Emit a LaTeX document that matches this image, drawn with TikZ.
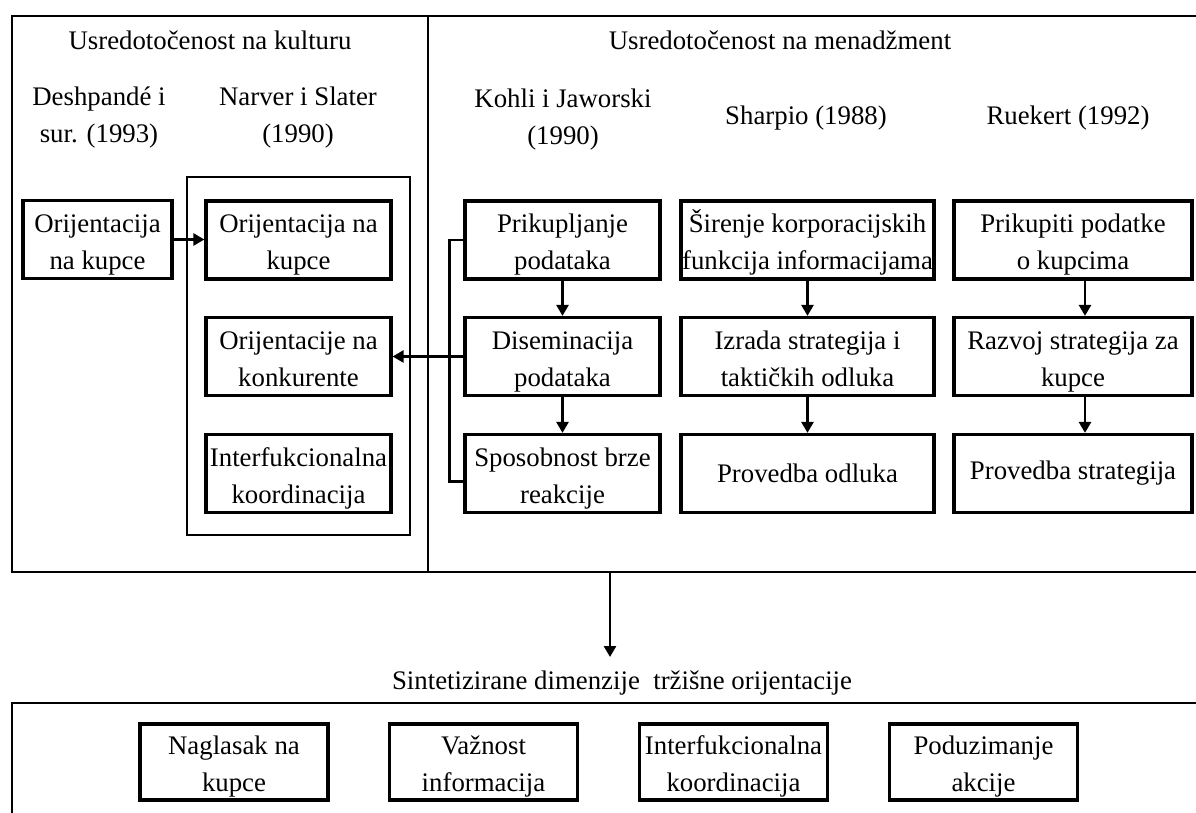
\documentclass[tikz,border=0pt]{standalone}
\usepackage{fontspec}
\setmainfont{Liberation Serif}
\usetikzlibrary{arrows.meta,positioning}

\newcommand{\twoline}[2]{\vphantom{Šj}#1\\#2\vphantom{Šj}}

\begin{document}
\begin{tikzpicture}[x=0.5pt,y=-0.5pt,>={Triangle[length=5.5pt,width=6pt]},
  every node/.style={font=\fontsize{13.4}{18.5}\selectfont,align=center},
  box/.style={draw,line width=1.6pt,inner sep=0pt,minimum height=39pt},
  txt/.style 2 args={label={[yshift=-1.4pt]center:{\twoline{#1}{#2}}}},
  frame/.style={draw,line width=1.4pt},
  conn/.style={line width=1.3pt},
  desh col/.style={box,minimum width=74.5pt},
  narv col/.style={box,minimum width=92.5pt},
  kohli col/.style={box,minimum width=97.5pt},
  shar col/.style={box,minimum width=126.5pt},
  ruek col/.style={box,minimum width=119pt},
  dim box/.style={box,minimum width=94pt,minimum height=38pt}]

  \useasboundingbox (0,0) rectangle (1196,813);
  \clip (0,0) rectangle (1196,813);

  % outer frames
  \draw[frame] (12,16) rectangle (1240,572);
  \draw[frame] (428,16) -- (428,572);
  \draw[frame] (12,703) rectangle (1240,860);

  % headings
  \node (cult) at (210,40) {Usredotočenost na kulturu};
  \node (mgmt) at (780,40) {Usredotočenost na menadžment};
  \node (deshT) at (99,118) {Deshpandé i\\sur. (1993)};
  \node (narvT) at (298,118) {Narver i Slater\\(1990)};
  \node (kohT) at (563,120) {Kohli i Jaworski\\(1990)};
  \node (sharT) at (806,118) {Sharpio (1988)};
  \node (ruekT) at (1068,118) {Ruekert (1992)};

  % culture side
  \node[desh col,txt={Orijentacija}{na kupce}] (desh1) at (97.5,239.5) {};
  \node[frame,minimum width=111.5pt,minimum height=179pt] (narv) at (298.5,356) {};
  \node[narv col,txt={Orijentacija na}{kupce}] (narv1) at (298.5,240) {};
  \node[narv col,txt={Orijentacije na}{konkurente}] (narv2) at (298.5,356.5) {};
  \node[narv col,txt={Interfukcionalna}{koordinacija}] (narv3) at (298.5,473.5) {};

  % management side
  \node[kohli col,txt={Prikupljanje}{podataka}] (kohli1) at (562.5,240) {};
  \node[kohli col,txt={Diseminacija}{podataka}] (kohli2) at (562.5,356.5) {};
  \node[kohli col,txt={Sposobnost brze}{reakcije}] (kohli3) at (562.5,473.5) {};

  \node[shar col,txt={Širenje korporacijskih}{funkcija informacijama}] (shar1) at (807.5,240) {};
  \node[shar col,txt={Izrada strategija i}{taktičkih odluka}] (shar2) at (807.5,356.5) {};
  \node[shar col] (shar3) at (807.5,473.5) {Provedba odluka};

  \node[ruek col,txt={Prikupiti podatke}{o kupcima}] (ruek1) at (1073,240) {};
  \node[ruek col,txt={Razvoj strategija za}{kupce}] (ruek2) at (1073,356.5) {};
  \node[ruek col] (ruek3) at (1073,473.5) {Provedba strategija};

  % synthesis
  \coordinate (topout) at (610,572);
  \coordinate (topin) at (610,657);
  \node (synth) at (622,683) {Sintetizirane dimenzije\ \ tržišne orijentacije};
  \node[dim box,txt={Naglasak na}{kupce}] (dim1) at (234,762) {};
  \node[dim box,txt={Važnost}{informacija}] (dim2) at (483.5,762) {};
  \node[dim box,txt={Interfukcionalna}{koordinacija}] (dim3) at (733.5,762) {};
  \node[dim box,txt={Poduzimanje}{akcije}] (dim4) at (983.5,762) {};

  % connectors
  \draw[conn,->] (desh1.east) -- (desh1.east -| narv1.west);
  \draw[conn] (kohli1.west) -- ++(-14,0) |- ([yshift=-4pt]kohli3.west);
  \draw[conn,->] (kohli2.west) -- (narv2.east);
  \draw[conn,->] (kohli1) -- (kohli2);
  \draw[conn,->] (kohli2) -- (kohli3);
  \draw[conn,->] (shar1) -- (shar2);
  \draw[conn,->] (shar2) -- (shar3);
  \draw[conn,->] ([xshift=6pt]ruek1.south) -- ([xshift=6pt]ruek2.north);
  \draw[conn,->] ([xshift=6pt]ruek2.south) -- ([xshift=6pt]ruek3.north);
  \draw[conn,->] (topout) -- (topin);

\end{tikzpicture}
\end{document}
